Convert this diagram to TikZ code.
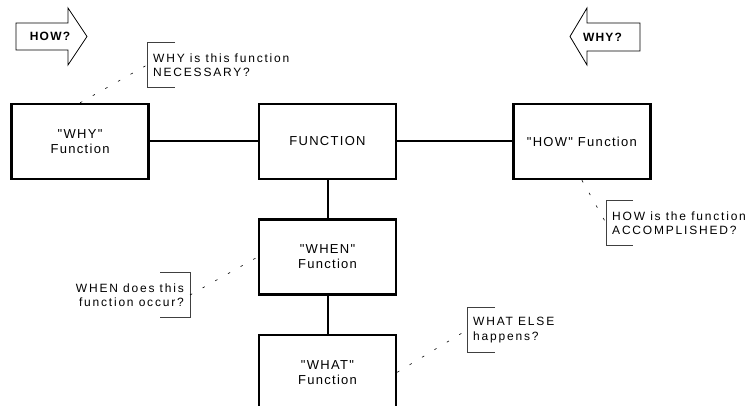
\documentclass[tikz,border=0pt]{standalone}
\usepackage{fontspec}
\newfontfamily\boxfont[LetterSpace=10]{Liberation Sans}
\newfontfamily\notefont[LetterSpace=15]{Liberation Sans}
\usetikzlibrary{positioning}

\begin{document}
\begin{tikzpicture}[x=1pt,y=-1pt,
    fbox/.style={draw,line width=2.4pt,minimum width=137pt,minimum height=75pt,
      align=center,font=\boxfont\fontsize{13}{15.3}\selectfont},
    link/.style={line width=2pt},
    note/.style={inner xsep=6pt,inner ysep=0pt,minimum height=44pt,
      font=\notefont\fontsize{12}{14.5}\selectfont},
    bracket/.style={draw=black!75,line width=0.8pt},
    leader/.style={line width=0.6pt,dash pattern=on 2.5pt off 12pt},
    bigarrow/.style={draw,line width=0.8pt},
    arrowtext/.style={font=\boxfont\bfseries\fontsize{12}{14}\selectfont}
  ]
  \useasboundingbox (0,0) rectangle (752,406);

  % function boxes
  \node[fbox] (func) at (327.5,141.5) {FUNCTION};
  \node[fbox,left=108pt of func] (why) {"WHY"\\Function};
  \node[fbox,right=115pt of func] (how) {"HOW" Function};
  \node[fbox,below=38pt of func] (when) {"WHEN"\\Function};
  \node[fbox,below=38pt of when] (what) {"WHAT"\\Function};
  \draw[link] (why) -- (func);
  \draw[link] (func) -- (how);
  \draw[link] (func) -- (when);
  \draw[link] (when) -- (what);

  % direction arrows
  \draw[bigarrow] (16,23) -- (68,23) -- (68,8) -- (87,36.5) -- (68,65) -- (68,50) -- (16,50) -- cycle;
  \node[arrowtext] (howarrow) at (50,36.5) {HOW?};
  \draw[bigarrow] (640,23) -- (587,23) -- (587,8) -- (570,36.5) -- (587,65) -- (587,51) -- (640,51) -- cycle;
  \node[arrowtext] (whyarrow) at (602.5,37) {WHY?};

  % questions
  \node[note,anchor=west,align=left] (whyq) at (147,65) {WHY is this function\\NECESSARY?};
  \node[note,anchor=west,align=left] (howq) at (606,223) {HOW is the function\\ACCOMPLISHED?};
  \node[note,anchor=east,align=right] (whenq) at (190,295) {WHEN does this\\function occur?};
  \node[note,anchor=west,align=left] (whatq) at (467,330) {WHAT ELSE\\happens?};
  \draw[bracket] ([xshift=28pt]whyq.north west) -- (whyq.north west) -- (whyq.south west) -- ++(28pt,0);
  \draw[bracket] ([xshift=27pt]howq.north west) -- (howq.north west) -- (howq.south west) -- ++(27pt,0);
  \draw[bracket] ([xshift=-30pt]whenq.north east) -- (whenq.north east) -- (whenq.south east) -- ++(-30pt,0);
  \draw[bracket] ([xshift=28pt]whatq.north west) -- (whatq.north west) -- (whatq.south west) -- ++(28pt,0);
  \draw[leader] (why.north) -- (whyq.west);
  \draw[leader] (how.south) -- (howq.west);
  \draw[leader] (whenq.east) -- (when.west);
  \draw[leader] (what.east) -- (whatq.west);
\end{tikzpicture}
\end{document}
